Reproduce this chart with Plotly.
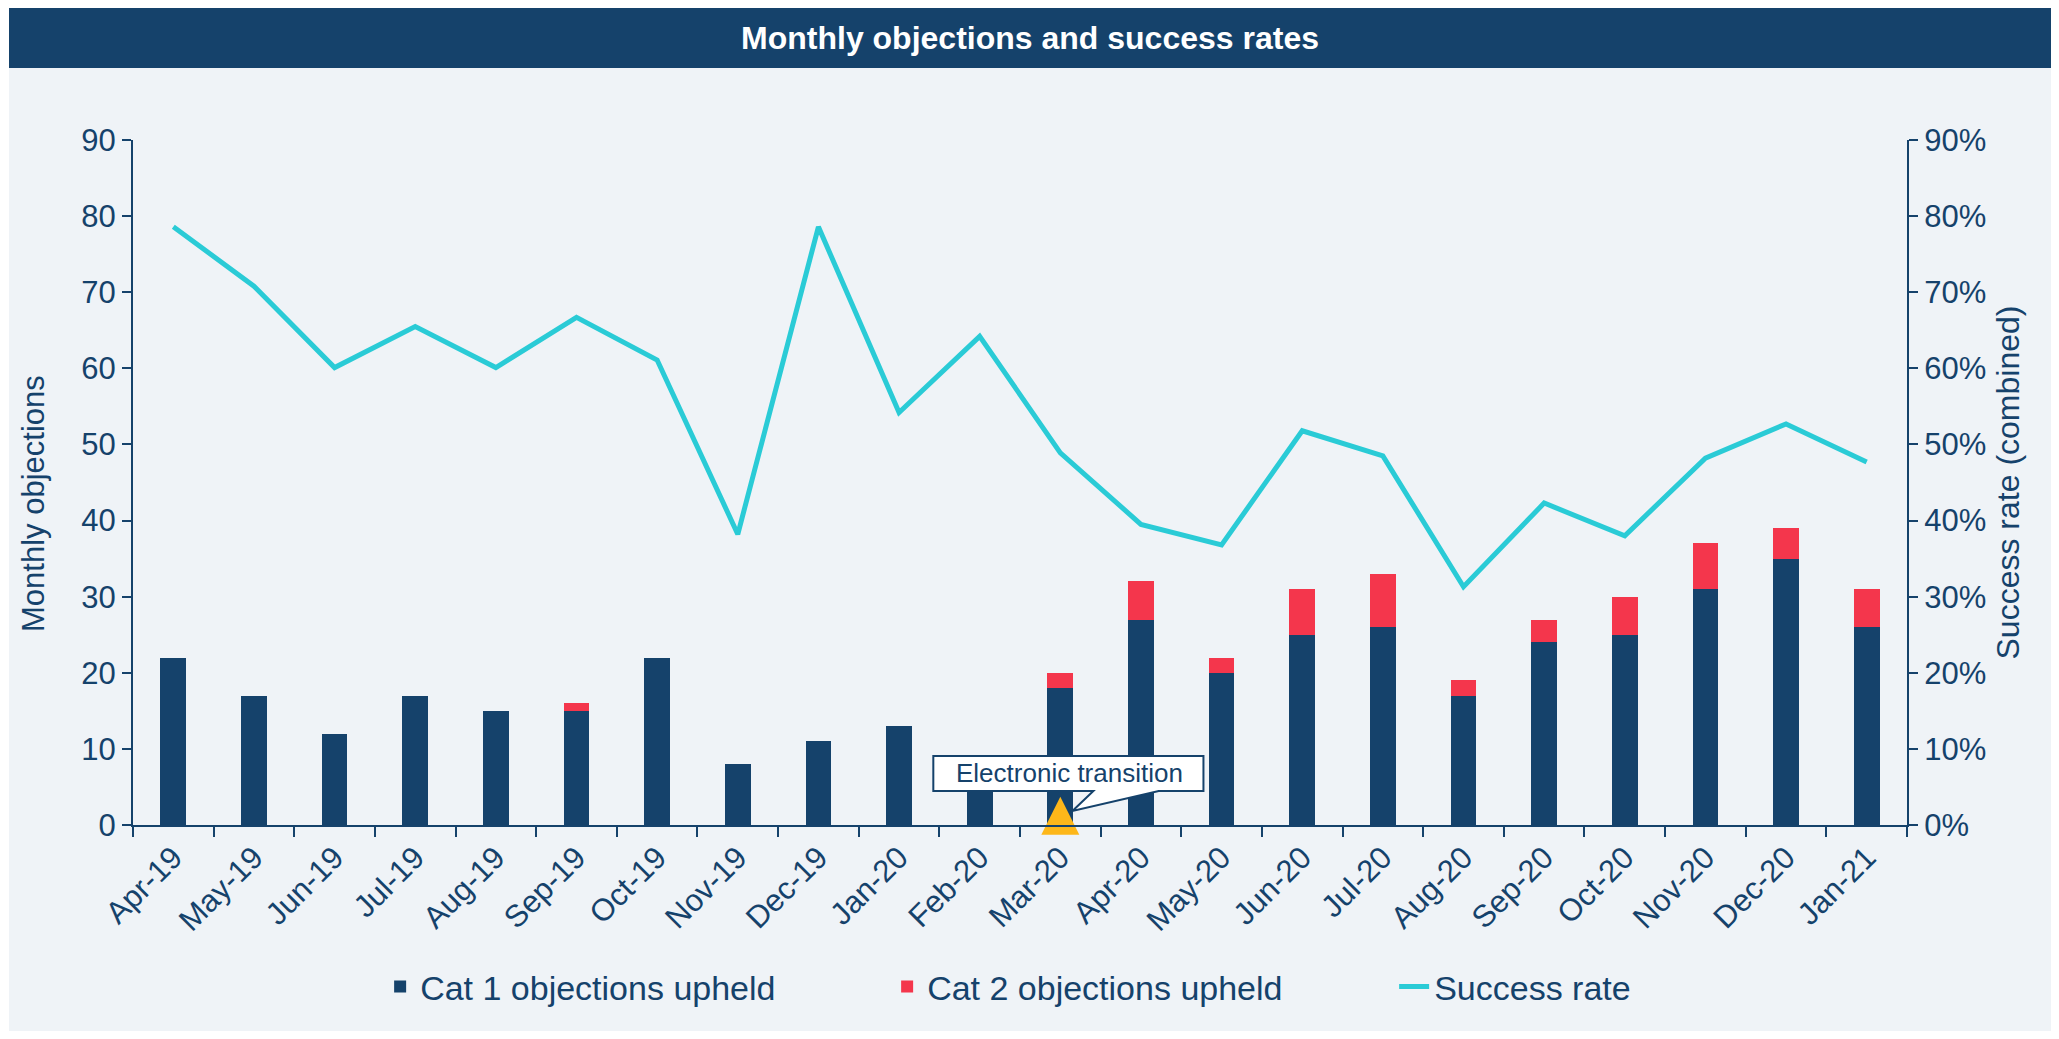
import plotly.graph_objects as go

# ---------------- data ----------------
months = ["Apr-19", "May-19", "Jun-19", "Jul-19", "Aug-19", "Sep-19", "Oct-19",
          "Nov-19", "Dec-19", "Jan-20", "Feb-20", "Mar-20", "Apr-20", "May-20",
          "Jun-20", "Jul-20", "Aug-20", "Sep-20", "Oct-20", "Nov-20", "Dec-20", "Jan-21"]
cat1_upheld = [22, 17, 12, 17, 15, 15, 22, 8, 11, 13, 7, 18, 27, 20, 25, 26, 17, 24, 25, 31, 35, 26]
cat2_upheld = [0, 0, 0, 0, 0, 1, 0, 0, 0, 0, 0, 2, 5, 2, 6, 7, 2, 3, 5, 6, 4, 5]
success_rate = [0.786, 0.708, 0.601, 0.655, 0.601, 0.667, 0.611, 0.382, 0.786, 0.542, 0.642,
                0.489, 0.395, 0.368, 0.518, 0.485, 0.313, 0.423, 0.380, 0.482, 0.527, 0.477]
event_month = ["Mar-20"]
event_label = "Electronic transition"

# ---------------- styles ----------------
NAVY = "#15426B"
RED = "#F4364C"
TEAL = "#2ACBD6"
GOLD = "#FDB71A"
PANEL = "#EFF3F7"
FONT = "Liberation Sans, Arial, sans-serif"

OFF = 8  # page body margin
W, H = 2059 - OFF, 1039 - OFF
# plot area in screen pixels
SX0, SX1, SY0, SY1 = 133, 1907, 140, 825
L, R, T, B = SX0 - OFF, W - (SX1 - OFF), SY0 - OFF, H - (SY1 - OFF)
PW, PH = W - L - R, H - T - B


def px_to_paper_x(px):
    return (px - SX0) / PW


def px_to_paper_y(py):
    return (SY1 - py) / PH


fig = go.Figure()
fig.add_trace(go.Bar(x=months, y=cat1_upheld, name="Cat 1 objections upheld",
                     marker=dict(color=NAVY, line=dict(width=0))))
fig.add_trace(go.Bar(x=months, y=cat2_upheld, name="Cat 2 objections upheld",
                     marker=dict(color=RED, line=dict(width=0))))
fig.add_trace(go.Scatter(x=months, y=success_rate, name="Success rate", yaxis="y2",
                         mode="lines", line=dict(color=TEAL, width=5)))
# event marker (triangle)
fig.add_trace(go.Scatter(x=event_month, y=[3.7], mode="markers", showlegend=False,
                         marker=dict(symbol="arrow-up", size=38, color=GOLD, line=dict(width=0)),
                         cliponaxis=False, hoverinfo="skip"))

# callout bubble (in category-index / data coordinates)
bx0, bx1, by0, by1 = 9.425, 12.775, 4.47, 9.07
wedge_a, wedge_b, tip_x, tip_y = 11.41, 12.22, 11.15, 1.84
path = (f"M {bx0},{by1} L {bx1},{by1} L {bx1},{by0} L {wedge_b},{by0} "
        f"L {tip_x},{tip_y} L {wedge_a},{by0} L {bx0},{by0} Z")

shapes = [
    dict(type="rect", xref="paper", yref="paper", layer="below",
         x0=px_to_paper_x(9), x1=px_to_paper_x(2051), y0=px_to_paper_y(1031), y1=px_to_paper_y(68),
         fillcolor=PANEL, line=dict(width=0)),
    dict(type="rect", xref="paper", yref="paper", layer="below",
         x0=px_to_paper_x(9), x1=px_to_paper_x(2051), y0=px_to_paper_y(68), y1=px_to_paper_y(7),
         fillcolor=NAVY, line=dict(width=0)),
    dict(type="path", xref="x", yref="y", path=path, layer="above",
         fillcolor="white", line=dict(color=NAVY, width=2)),
]

annotations = [
    dict(x=11.11, y=6.77, xref="x", yref="y", text=event_label, showarrow=False,
         font=dict(family=FONT, size=26, color=NAVY)),
    dict(x=px_to_paper_x(33), y=px_to_paper_y(504), xref="paper", yref="paper",
         text="Monthly objections", textangle=-90, showarrow=False,
         xanchor="center", yanchor="middle",
         font=dict(family=FONT, size=31, color=NAVY)),
]

fig.update_layout(
    width=W, height=H,
    margin=dict(l=L, r=R, t=T, b=B, pad=0),
    paper_bgcolor="white", plot_bgcolor="rgba(0,0,0,0)",
    font=dict(family=FONT, color=NAVY, size=30),
    title=dict(text="<b>Monthly objections and success rates</b>",
               x=(1030 - OFF) / W, y=1 - (37.5 - OFF) / H,
               xref="container", yref="container", xanchor="center", yanchor="middle",
               font=dict(family=FONT, size=32, color="white")),
    barmode="stack", bargap=0.68,
    showlegend=True,
    legend=dict(orientation="h", x=0.568, xanchor="center", y=px_to_paper_y(987), yanchor="middle",
                font=dict(family=FONT, size=34, color=NAVY), bgcolor="rgba(0,0,0,0)",
                traceorder="normal", entrywidth=462, entrywidthmode="pixels"),
    xaxis=dict(type="category", showline=True, linecolor=NAVY, linewidth=2,
               ticks="outside", tickson="boundaries", ticklen=10, tickcolor=NAVY, tickwidth=2,
               tickangle=-45, tickfont=dict(family=FONT, size=31, color=NAVY),
               showgrid=False, zeroline=False),
    yaxis=dict(range=[0, 90], dtick=10, showline=True, linecolor=NAVY, linewidth=2,
               ticks="outside", ticklen=9, tickcolor=NAVY, tickwidth=2,
               tickfont=dict(family=FONT, size=31, color=NAVY), showgrid=False, zeroline=False),
    yaxis2=dict(range=[0, 0.9], dtick=0.1, tickformat=".0%", overlaying="y", side="right",
                showline=True, linecolor=NAVY, linewidth=2,
                ticks="outside", ticklen=9, tickcolor=NAVY, tickwidth=2,
                tickfont=dict(family=FONT, size=31, color=NAVY), showgrid=False, zeroline=False,
                title=dict(text="Success rate (combined)", standoff=11,
                           font=dict(family=FONT, size=32, color=NAVY))),
    shapes=shapes,
    annotations=annotations,
)

fig.write_html("out.html")
